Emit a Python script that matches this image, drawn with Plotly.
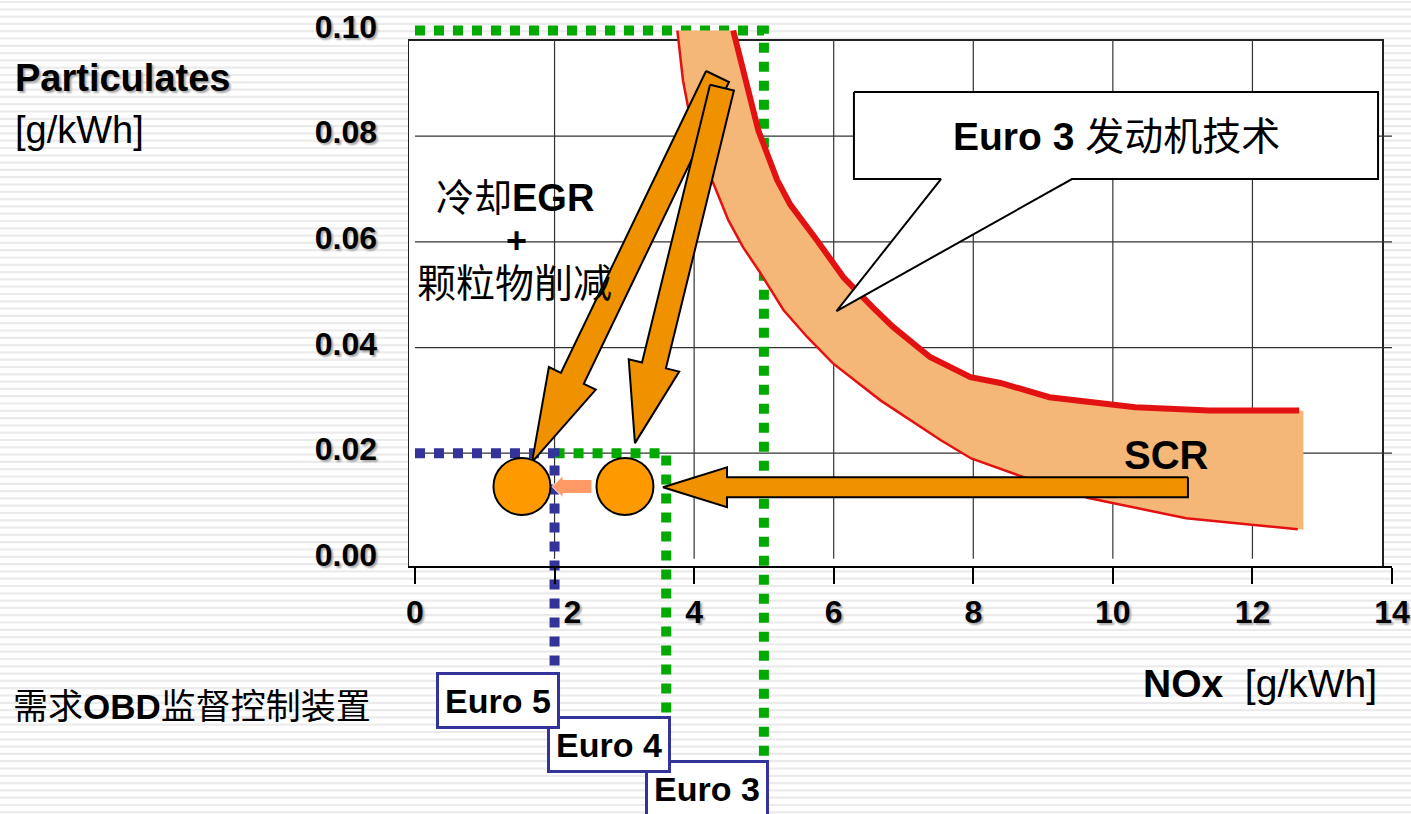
import math
import plotly.graph_objects as go

# ---------------- layout frame ----------------
W, H = 1411, 814
ML, MR, MT, MB = 408, 19, 20, 0
X_RANGE = [-0.1, 14.0]
Y_RANGE = [-0.0483, 0.1020]
PLOT_W = W - ML - MR
PLOT_H = H - MT - MB

FONT = "Arial, Liberation Sans, Noto Sans CJK SC, sans-serif"

# ---------------- data ----------------
x_ticks = [0, 2, 4, 6, 8, 10, 12, 14]
x_tick_text = ["0", "\u2007\u20072", "4", "6", "8", "10", "12", "14"]
y_ticks = [0.00, 0.02, 0.04, 0.06, 0.08, 0.10]
y_tick_text = ["0.00", "0.02", "0.04", "0.06", "0.08", "0.10"]

euro_names = ["Euro 3", "Euro 4", "Euro 5"]
euro_nox = [5.0, 3.6, 2.0]          # NOx limit [g/kWh]
euro_pm = [0.10, 0.02, 0.02]        # particulate limit [g/kWh]
euro_colors = ["#00AA00", "#00AA00", "#333399"]

# Euro 3 engine technology band (upper and lower boundary)
band_upper_x = [4.56, 4.76, 4.92, 5.19, 5.38, 5.76, 6.14, 6.56, 6.85, 7.38,
                7.96, 8.39, 9.09, 10.32, 11.38, 12.67]
band_upper_y = [0.1000, 0.0893, 0.0811, 0.0717, 0.0670, 0.0603, 0.0533, 0.0476,
                0.0439, 0.0382, 0.0344, 0.0333, 0.0306, 0.0287, 0.0281, 0.0281]
band_lower_x = [3.76, 3.84, 3.94, 4.09, 4.30, 4.49, 4.70, 4.95, 5.28, 5.62,
                5.99, 6.67, 7.53, 7.97, 8.65, 9.65, 11.05, 12.65]
band_lower_y = [0.1000, 0.0906, 0.0836, 0.0768, 0.0703, 0.0641, 0.0590, 0.0541,
                0.0471, 0.0420, 0.0370, 0.0300, 0.0225, 0.0190, 0.0158, 0.0115,
                0.0077, 0.0056]
band_end_x = 12.73
band_end_y = [0.0280, 0.0055]

# Euro 5 / Euro 4 engine points
engine_x = [1.533, 3.009]
engine_y = [0.0137, 0.0137]

# arrows: tail (x, y) -> tip (x, y)
egr_arrows_tail_x = [4.335, 4.399]
egr_arrows_tail_y = [0.0913, 0.0892]
egr_arrows_tip_x = [1.677, 3.152]
egr_arrows_tip_y = [0.0183, 0.0219]
scr_arrow_x = [11.076, 3.554]
scr_arrow_y = [0.01355, 0.01355]
small_arrow_x = [2.536, 1.963]
small_arrow_y = [0.01369, 0.01369]

# callout box (Euro 3 technology) and its pointer tip
callout_x = [6.29, 13.80]
callout_y = [0.07189, 0.08836]
callout_base_x = [7.537, 9.414]
callout_tip = [6.040, 0.04691]


# ---------------- helpers ----------------
def x2px(x):
    return ML + (x - X_RANGE[0]) / (X_RANGE[1] - X_RANGE[0]) * PLOT_W


def y2px(y):
    return MT + (Y_RANGE[1] - y) / (Y_RANGE[1] - Y_RANGE[0]) * PLOT_H


def px2x(p):
    return X_RANGE[0] + (p - ML) / PLOT_W * (X_RANGE[1] - X_RANGE[0])


def px2y(p):
    return Y_RANGE[1] - (p - MT) / PLOT_H * (Y_RANGE[1] - Y_RANGE[0])


def paper_x(p):
    return (p - ML) / PLOT_W


def paper_y(p):
    return (H - MB - p) / PLOT_H


def block_arrow(tail, tip, shaft_hw, head_hw, head_len):
    tx, ty = x2px(tail[0]), y2px(tail[1])
    hx, hy = x2px(tip[0]), y2px(tip[1])
    dx, dy = hx - tx, hy - ty
    L = math.hypot(dx, dy)
    ux, uy = dx / L, dy / L
    nx, ny = -uy, ux
    bx, by = hx - ux * head_len, hy - uy * head_len
    pts = [
        (tx + nx * shaft_hw, ty + ny * shaft_hw),
        (bx + nx * shaft_hw, by + ny * shaft_hw),
        (bx + nx * head_hw, by + ny * head_hw),
        (hx, hy),
        (bx - nx * head_hw, by - ny * head_hw),
        (bx - nx * shaft_hw, by - ny * shaft_hw),
        (tx - nx * shaft_hw, ty - ny * shaft_hw),
        (tx + nx * shaft_hw, ty + ny * shaft_hw),
    ]
    return [px2x(p[0]) for p in pts], [px2y(p[1]) for p in pts]


fig = go.Figure()
shapes = []

# background stripes (slide texture)
p = 2.0
while p < H:
    shapes.append(dict(type="line", xref="paper", yref="paper", layer="below",
                       x0=paper_x(-5), x1=paper_x(W + 5), y0=paper_y(p), y1=paper_y(p),
                       line=dict(color="#ebebeb", width=2.2)))
    p += 7.3

# plot frame
BOX_TOP = px2y(40)
BOX_BOTTOM = px2y(567)
BOX_RIGHT = px2x(1383)
shapes.append(dict(type="rect", xref="x", yref="y", layer="below",
                   x0=X_RANGE[0], x1=BOX_RIGHT, y0=BOX_BOTTOM, y1=BOX_TOP,
                   fillcolor="white", line=dict(color="#222222", width=2)))
# grid lines
for gx in x_ticks[1:-1]:
    shapes.append(dict(type="line", xref="x", yref="y", layer="below",
                       x0=gx, x1=gx, y0=0, y1=BOX_TOP,
                       line=dict(color="#333333", width=1.2)))
for gy in y_ticks[1:-1]:
    shapes.append(dict(type="line", xref="x", yref="y", layer="below",
                       x0=0, x1=x_ticks[-1], y0=gy, y1=gy,
                       line=dict(color="#333333", width=1.2)))

# Euro limit dotted lines (down to the label boxes)
label_center_px = [788, 744.5, 700.5]
label_top_px = [759, 716, 672]
line_start = [0.0, euro_nox[2], 0.0]
for i in range(3):
    fig.add_trace(go.Scatter(
        x=[line_start[i], euro_nox[i], euro_nox[i]],
        y=[euro_pm[i], euro_pm[i], px2y(label_top_px[i])],
        mode="lines", line=dict(color=euro_colors[i], width=10, dash="10px,9px"),
        hoverinfo="skip", showlegend=False))

# band
bx = band_upper_x + [band_end_x, band_end_x] + band_lower_x[::-1]
by = band_upper_y + band_end_y + band_lower_y[::-1]
fig.add_trace(go.Scatter(x=bx, y=by, mode="lines", fill="toself",
                         fillcolor="#F5B777", line=dict(width=0, color="#F5B777"),
                         hoverinfo="skip", showlegend=False))
fig.add_trace(go.Scatter(x=band_upper_x, y=band_upper_y, mode="lines",
                         line=dict(color="#E31212", width=6),
                         hoverinfo="skip", showlegend=False))
fig.add_trace(go.Scatter(x=band_lower_x, y=band_lower_y, mode="lines",
                         line=dict(color="#E31212", width=2.5),
                         hoverinfo="skip", showlegend=False))

# EGR arrows
arrow_geom = [(12.7, 26, 93), (12.3, 26, 80)]
for i in range(2):
    ax, ay = block_arrow((egr_arrows_tail_x[i], egr_arrows_tail_y[i]),
                         (egr_arrows_tip_x[i], egr_arrows_tip_y[i]), *arrow_geom[i])
    fig.add_trace(go.Scatter(x=ax, y=ay, mode="lines", fill="toself",
                             fillcolor="#F09200", line=dict(color="black", width=2),
                             hoverinfo="skip", showlegend=False))

# SCR arrow
ax, ay = block_arrow((scr_arrow_x[0], scr_arrow_y[0]), (scr_arrow_x[1], scr_arrow_y[1]), 10, 20, 64)
fig.add_trace(go.Scatter(x=ax, y=ay, mode="lines", fill="toself",
                         fillcolor="#F09200", line=dict(color="black", width=2),
                         hoverinfo="skip", showlegend=False))

# small arrow between engines
ax, ay = block_arrow((small_arrow_x[0], small_arrow_y[0]), (small_arrow_x[1], small_arrow_y[1]), 7, 11, 11)
fig.add_trace(go.Scatter(x=ax, y=ay, mode="lines", fill="toself",
                         fillcolor="#FF9966", line=dict(color="white", width=1),
                         hoverinfo="skip", showlegend=False))

# engines
fig.add_trace(go.Scatter(x=engine_x, y=engine_y, mode="markers",
                         marker=dict(size=57, color="#FF9900", line=dict(color="black", width=2)),
                         hoverinfo="skip", showlegend=False))

# callout
cx = [callout_x[0], callout_x[1], callout_x[1], callout_base_x[1], callout_tip[0],
      callout_base_x[0], callout_x[0], callout_x[0]]
cy = [callout_y[1], callout_y[1], callout_y[0], callout_y[0], callout_tip[1],
      callout_y[0], callout_y[0], callout_y[1]]
fig.add_trace(go.Scatter(x=cx, y=cy, mode="lines", fill="toself", fillcolor="white",
                         line=dict(color="black", width=2),
                         hoverinfo="skip", showlegend=False))

annotations = []


def txt(text, x, y, size, xref="paper", yref="paper", xanchor="center", color="black", shadow=None):
    f = dict(family=FONT, size=size, color=color)
    if shadow:
        f["shadow"] = shadow
    annotations.append(dict(text=text, x=x, y=y, xref=xref, yref=yref, xanchor=xanchor,
                            yanchor="middle", showarrow=False, font=f))


SH = "2px 2px 2px #a8a8a8"
txt("<b>Particulates</b>", paper_x(13), paper_y(78), 38, xanchor="left", shadow=SH)
txt("[g/kWh]", paper_x(13), paper_y(130), 38, xanchor="left")
txt("<b>NOx</b>\u00a0\u00a0[g/kWh]", paper_x(1141), paper_y(683), 39, xanchor="left")
txt("需求<b>OBD</b>监督控制装置", paper_x(11), paper_y(706), 35, xanchor="left")
txt("冷却<b>EGR</b>", px2x(515), px2y(198), 38, xref="x", yref="y")
txt("<b>+</b>", px2x(516), px2y(240), 36, xref="x", yref="y")
txt("颗粒物削减", px2x(514), px2y(283), 39, xref="x", yref="y")
txt("<b>SCR</b>", px2x(1166), px2y(455), 40, xref="x", yref="y")
txt("<b>Euro 3</b> 发动机技术", px2x(1116), px2y(136), 39, xref="x", yref="y")

for i in range(3):
    annotations.append(dict(
        text="<b>%s</b>" % euro_names[i], x=euro_nox[i], xref="x", xanchor="right", xshift=5,
        y=paper_y(label_center_px[i]), yref="paper", yanchor="middle",
        showarrow=False, width=118, height=51, borderpad=0, borderwidth=3,
        bordercolor="#333399", bgcolor="white",
        font=dict(family=FONT, size=34, color="black")))

tickfont = dict(family=FONT, size=32, color="black", weight="bold", shadow=SH)

fig.update_layout(
    width=W, height=H,
    margin=dict(l=ML, r=MR, t=MT, b=MB, pad=0),
    paper_bgcolor="white", plot_bgcolor="rgba(0,0,0,0)",
    showlegend=False,
    shapes=shapes, annotations=annotations,
    xaxis=dict(range=X_RANGE, anchor="free", position=paper_y(567),
               showline=True, linecolor="black", linewidth=2,
               ticks="outside", ticklen=16, tickwidth=2, tickcolor="black",
               tickvals=x_ticks, ticktext=x_tick_text,
               showgrid=False, zeroline=False, tickfont=tickfont,
               ticklabelstandoff=1, fixedrange=True),
    yaxis=dict(range=Y_RANGE, showline=False, showgrid=False, zeroline=False,
               tickvals=y_ticks, ticktext=y_tick_text, ticks="",
               tickfont=tickfont, ticklabelstandoff=30, ticklabelshift=-4,
               fixedrange=True),
)

fig.write_html("out.html")
